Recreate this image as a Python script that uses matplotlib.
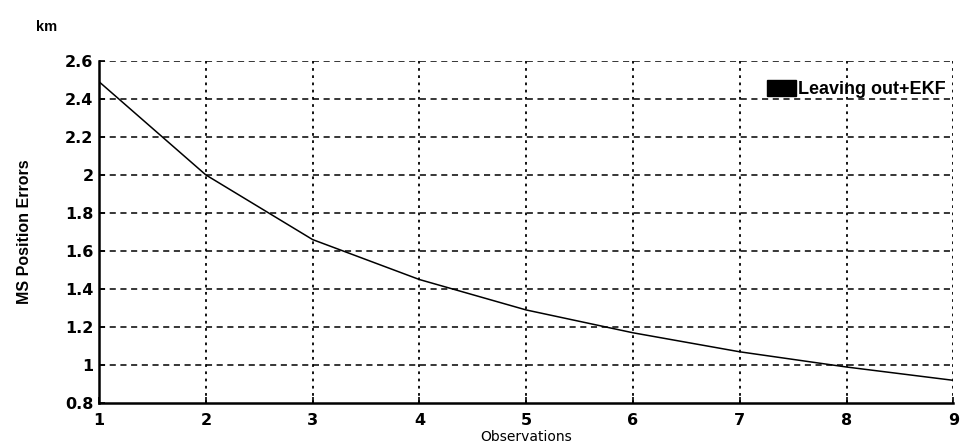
import matplotlib.pyplot as plt
from matplotlib.patches import Patch

# values
observations = [1, 2, 3, 4, 5, 6, 7, 8, 9]
ms_errors = [2.49, 2.00, 1.66, 1.45, 1.29, 1.17, 1.07, 0.99, 0.92]
y_ticks = [0.8, 1.0, 1.2, 1.4, 1.6, 1.8, 2.0, 2.2, 2.4, 2.6]
y_labels = ['0.8', '1', '1.2', '1.4', '1.6', '1.8', '2', '2.2', '2.4', '2.6']

plt.rcParams['font.family'] = ['Liberation Sans', 'DejaVu Sans']

fig = plt.figure(figsize=(9.62, 4.44), dpi=100)
ax = fig.add_axes([0.103, 0.092, 0.888, 0.771])

ax.plot(observations, ms_errors, color='black', linewidth=1.1)

ax.set_xlim(1, 9)
ax.set_ylim(0.8, 2.6)
ax.set_xticks(observations)
ax.set_yticks(y_ticks)
ax.set_yticklabels(y_labels)

# grid: dashed horizontals, dotted verticals
for y in y_ticks[1:]:
    ax.axhline(y, color='black', linestyle=(0, (4, 3)), linewidth=1.1)
for x in observations[1:]:
    ax.axvline(x, color='black', linestyle=(0, (1.5, 2.5)), linewidth=1.3)

ax.spines['top'].set_visible(False)
ax.spines['right'].set_visible(False)
ax.spines['left'].set_linewidth(1.8)
ax.spines['bottom'].set_linewidth(1.8)
ax.tick_params(direction='in', length=4, width=1.2, labelsize=11.5, pad=4)
ax.tick_params(axis='x', pad=7)
for lbl in ax.get_xticklabels() + ax.get_yticklabels():
    lbl.set_fontweight('bold')
    lbl.set_family('DejaVu Sans')

ax.set_xlabel('Observations', fontsize=10, family='DejaVu Sans')
ax.xaxis.set_label_coords(0.5, -0.077)
ax.set_ylabel('MS Position Errors', fontsize=11.5, fontweight='bold')
ax.yaxis.set_label_coords(-0.078, 0.5)
fig.text(0.037, 0.94, 'km', fontsize=10.5, fontweight='bold', va='center')

# legend key shown as a solid black box in the original
ax.legend(handles=[Patch(facecolor='black', edgecolor='black', label='Leaving out+EKF')],
          loc='upper right', frameon=False, handlelength=1.6, handleheight=1.0,
          handletextpad=0.15, borderaxespad=0.0, bbox_to_anchor=(1.0, 0.965),
          prop={'weight': 'bold', 'size': 13})

fig.savefig('out.png', dpi=100)
